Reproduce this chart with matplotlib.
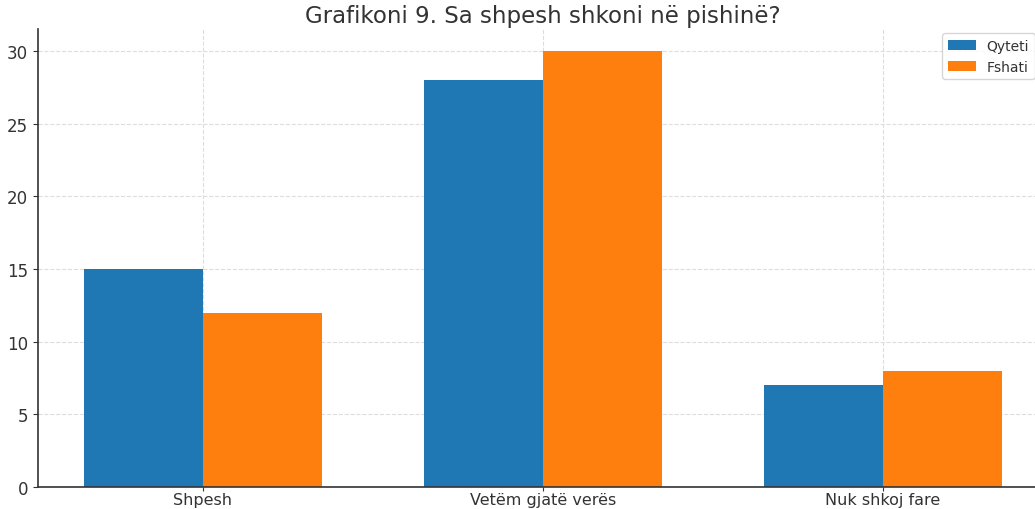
import matplotlib
matplotlib.use("Agg")
import matplotlib.pyplot as plt
import numpy as np

categories = ["Shpesh", "Vetëm gjatë verës", "Nuk shkoj fare"]
qyteti = [15, 28, 7]
fshati = [12, 30, 8]
series_labels = ["Qyteti", "Fshati"]
title = "Grafikoni 9. Sa shpesh shkoni në pishinë?"

plt.rcParams['font.family'] = ['DejaVu Sans']
txt = '#333333'

fig = plt.figure(figsize=(10.35, 5.10), dpi=100)
ax = fig.add_axes([38/1035, 22/510, 1010/1035, 458/510])

x = np.arange(len(categories))
w = 0.35
ax.bar(x - w/2, qyteti, w, label=series_labels[0], color='#1f77b4', zorder=2)
ax.bar(x + w/2, fshati, w, label=series_labels[1], color='#ff7f0e', zorder=2)

ax.set_xticks(x)
ax.set_xticklabels(categories, fontsize=11.5, color=txt)
ax.tick_params(axis='y', labelsize=12, labelcolor=txt, color=txt)
ax.tick_params(axis='x', color=txt, pad=0.5, length=3)
ax.set_title(title, fontsize=16.5, color=txt, pad=5)
ax.grid(True, linestyle='--', color='#dddddd', linewidth=0.8, zorder=0)
ax.set_axisbelow(True)
for s in ['top', 'right']:
    ax.spines[s].set_visible(False)
for s in ['left', 'bottom']:
    ax.spines[s].set_color(txt)
    ax.spines[s].set_linewidth(1.2)
ax.legend(loc='upper right', bbox_to_anchor=(0.991, 1.0), fontsize=10,
          labelcolor=txt, borderaxespad=0.3)

fig.savefig("out.png", dpi=100)
